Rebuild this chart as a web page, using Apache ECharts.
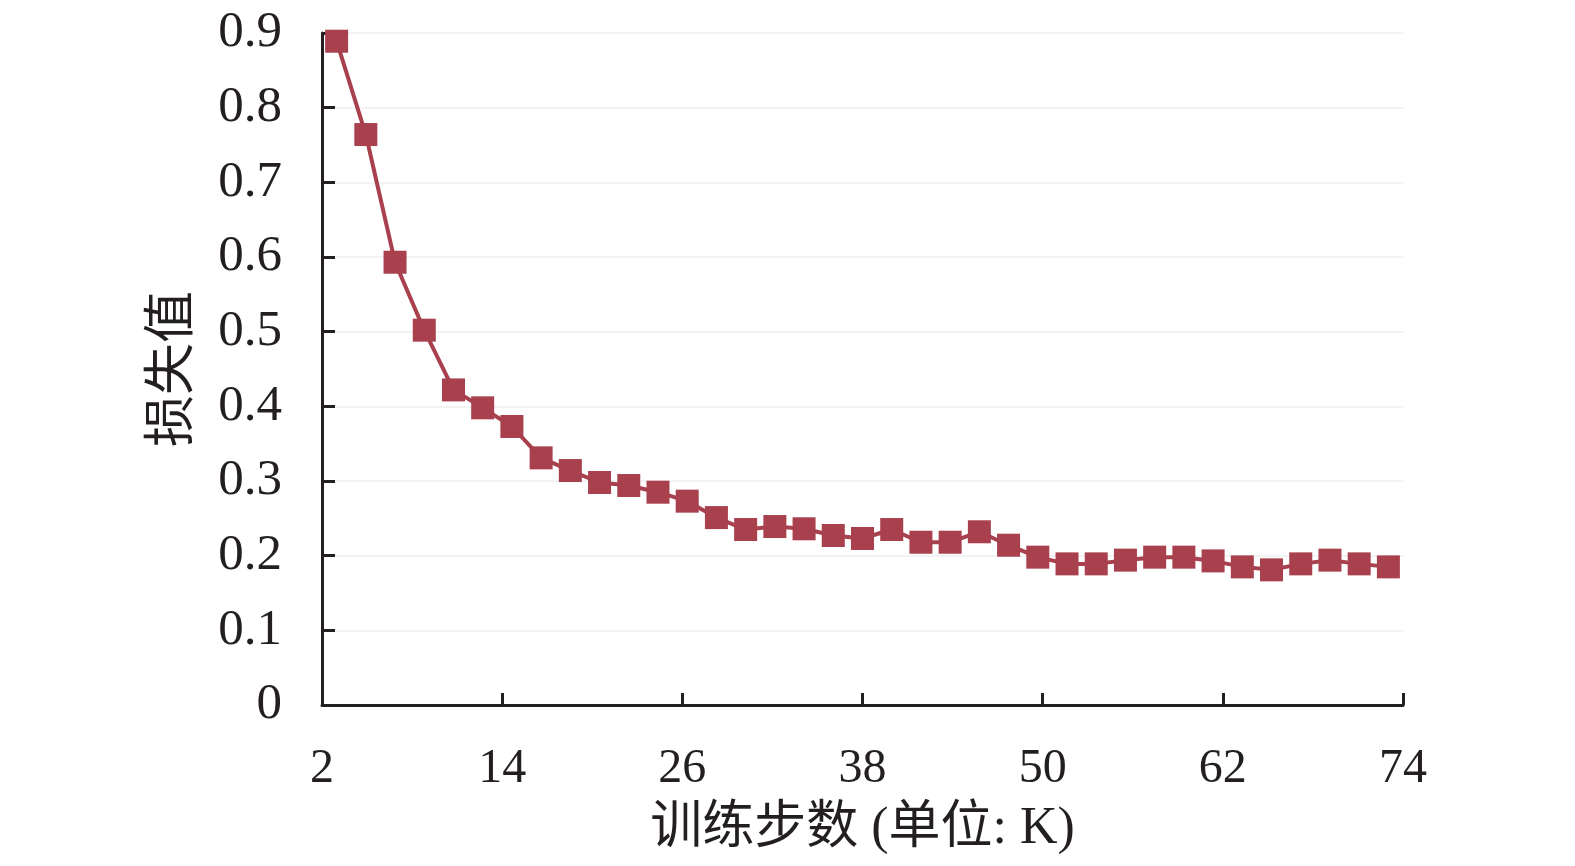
<!DOCTYPE html>
<html>
<head>
<meta charset="utf-8">
<script src="https://cdn.jsdelivr.net/npm/echarts@6/dist/echarts.min.js"></script>
<style>
html,body{margin:0;padding:0;background:#fff;}
#chart{width:1575px;height:866px;}
</style>
</head>
<body>
<div id="chart"></div>
<script>
// Training steps (K) — one point every 2K
const steps = ['2','4','6','8','10','12','14','16','18','20','22','24','26','28','30','32','34','36','38','40','42','44','46','48','50','52','54','56','58','60','62','64','66','68','70','72','74'];
// Loss values
const loss = [0.889,0.764,0.593,0.502,0.422,0.398,0.373,0.331,0.314,0.298,0.294,0.285,0.273,0.251,0.235,0.239,0.236,0.227,0.223,0.235,0.218,0.218,0.232,0.214,0.198,0.189,0.189,0.194,0.198,0.198,0.193,0.185,0.181,0.189,0.194,0.189,0.185];
// Axis ranges
const xMin = 2, xMax = 74, xStep = 12;
const yMin = 0, yMax = 0.9, yStep = 0.1;

const FONT = "'Liberation Serif', 'Times New Roman', 'Noto Sans CJK SC', serif";
const INK = '#231f20';
const chart = echarts.init(document.getElementById('chart'), null, {renderer: 'canvas'});
chart.setOption({
  backgroundColor: '#ffffff',
  animation: false,
  grid: {left: 322, right: 172, top: 33, bottom: 161, containLabel: false},
  xAxis: [{
    type: 'value', min: xMin, max: xMax, interval: xStep,
    name: '训练步数 (单位: K)', nameLocation: 'middle', nameGap: 98,
    nameTextStyle: {fontFamily: FONT, fontSize: 52, color: INK},
    axisLine: {show: true, lineStyle: {color: INK, width: 3}},
    axisTick: {show: true, inside: true, length: 12, lineStyle: {color: INK, width: 3}},
    axisLabel: {margin: 40, fontFamily: FONT, fontSize: 48, color: INK},
    splitLine: {show: false}
  }, {
    type: 'category', data: steps, boundaryGap: true, show: false,
    axisLine: {show: false}, axisTick: {show: false}, axisLabel: {show: false}
  }],
  yAxis: {
    type: 'value', min: yMin, max: yMax, interval: yStep,
    name: '损失值', nameLocation: 'middle', nameGap: 122, nameRotate: 90,
    nameTextStyle: {fontFamily: FONT, fontSize: 52, color: INK},
    axisLine: {show: true, lineStyle: {color: INK, width: 3}},
    axisTick: {show: true, inside: true, length: 13, lineStyle: {color: INK, width: 3}},
    axisLabel: {margin: 40, fontFamily: FONT, fontSize: 51, color: INK,
      formatter: function (v) { return v === 0 ? '0' : v.toFixed(1); }},
    splitLine: {show: true, lineStyle: {color: '#f3f3f3', width: 2}}
  },
  series: [{
    type: 'line', xAxisIndex: 1, data: loss,
    symbol: 'rect', symbolSize: 23, showSymbol: true, showAllSymbol: true,
    lineStyle: {color: '#a8404e', width: 4},
    itemStyle: {color: '#a8404e'},
    z: 3
  }]
});
</script>
</body>
</html>
